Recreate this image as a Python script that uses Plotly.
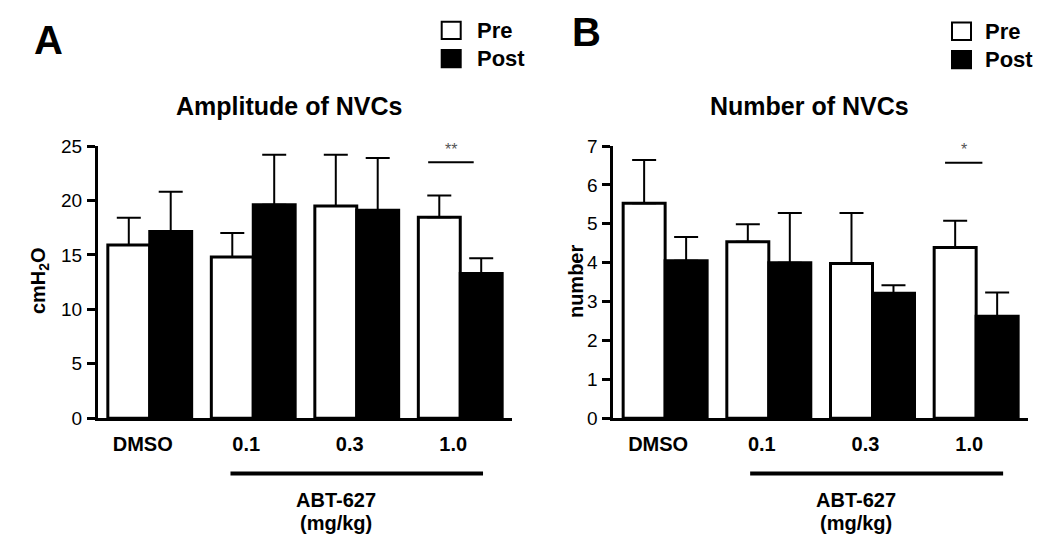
import plotly.graph_objects as go

# ---------------- data ----------------
categories = ["DMSO", "0.1", "0.3", "1.0"]

amp_pre = [15.9, 14.8, 19.5, 18.45]
amp_pre_sem = [2.5, 2.2, 4.7, 2.0]
amp_post = [17.15, 19.6, 19.1, 13.3]
amp_post_sem = [3.65, 4.6, 4.8, 1.4]

num_pre = [5.53, 4.54, 3.98, 4.39]
num_pre_sem = [1.11, 0.45, 1.3, 0.69]
num_post = [4.05, 4.0, 3.21, 2.62]
num_post_sem = [0.61, 1.28, 0.21, 0.61]

amp_yticks = [0, 5, 10, 15, 20, 25]
num_yticks = [0, 1, 2, 3, 4, 5, 6, 7]

series_names = ["Pre", "Post"]
panel_titles = ["Amplitude of NVCs", "Number of NVCs"]
panel_letters = ["A", "B"]
y_titles = ["cmH<sub>2</sub>O", "number"]
drug_label = "ABT-627"
unit_label = "(mg/kg)"
sig_labels = ["**", "*"]

# ---------------- helpers ----------------
W, H = 1050, 542
FONT = "Liberation Sans, Arial, sans-serif"


def px(x):
    return x / W


def py(y):
    return 1 - y / H


def bar(name, y, sem, fill, xa, ya):
    return go.Bar(
        name=name, x=categories, y=y, xaxis=xa, yaxis=ya,
        marker=dict(color=fill, line=dict(color="black", width=3)),
        error_y=dict(type="data", symmetric=False, array=sem,
                     arrayminus=[0] * len(sem), color="black",
                     thickness=2, width=12),
        showlegend=False,
    )


fig = go.Figure()
fig.add_trace(bar(series_names[0], amp_pre, amp_pre_sem, "white", "x", "y"))
fig.add_trace(bar(series_names[1], amp_post, amp_post_sem, "black", "x", "y"))
fig.add_trace(bar(series_names[0], num_pre, num_pre_sem, "white", "x2", "y2"))
fig.add_trace(bar(series_names[1], num_post, num_post_sem, "black", "x2", "y2"))

ydom = [py(424.6), py(141.5)]


def xaxis(dom, anchor):
    return dict(
        domain=dom, anchor=anchor, type="category",
        categoryorder="array", categoryarray=categories,
        range=[-0.5, 3.5], showline=True, linewidth=3, linecolor="black",
        ticks="", showgrid=False, zeroline=False,
        tickfont=dict(family=FONT, size=20, color="black", weight="bold"),
        ticklabelstandoff=6, ticklabelshift=-7,
    )


def yaxis(rng, ticks, anchor):
    return dict(
        domain=ydom, anchor=anchor, range=rng, tickvals=ticks,
        showline=True, linewidth=3, linecolor="black",
        ticks="outside", ticklen=8, tickwidth=3, tickcolor="black",
        showgrid=False, zeroline=False, ticklabelstandoff=1,
        tickfont=dict(family=FONT, size=19, color="black"),
    )


fig.update_layout(
    width=W, height=H,
    margin=dict(l=0, r=0, t=0, b=0),
    paper_bgcolor="white", plot_bgcolor="white",
    barmode="group", bargap=0.19, bargroupgap=0,
    showlegend=False,
    font=dict(family=FONT, color="black"),
    xaxis=xaxis([px(98), px(512)], "y"),
    yaxis=yaxis([0, 25], amp_yticks, "x"),
    xaxis2=xaxis([px(613.3), px(1028)], "y2"),
    yaxis2=yaxis([0, 7], num_yticks, "x2"),
)

shapes = []
annotations = []

# per-panel decoration
panels = [
    dict(xr="x", yr="y", title_x=289, letter_x=48, letter_y=31.2,
         ytitle_x=39, leg_box_x=441.7, leg_text_x=475, leg_y0=11.1,
         brk=(0.78, 3.22), drug_x=1.8, sig=(2.69, 3.13, 23.5), sig_txt=(2.91, 24.7)),
    dict(xr="x2", yr="y2", title_x=809.5, letter_x=586, letter_y=22.7,
         ytitle_x=576, leg_box_x=952, leg_text_x=983, leg_y0=12.1,
         brk=(0.82, 3.26), drug_x=1.84, sig=(2.70, 3.06, 6.57), sig_txt=(2.88, 6.92)),
]

for i, p in enumerate(panels):
    # title
    annotations.append(dict(
        text="<b>%s</b>" % panel_titles[i], x=px(p["title_x"]), y=py(99.8),
        xref="paper", yref="paper", showarrow=False, xanchor="center", yanchor="middle",
        font=dict(family=FONT, size=25, color="black")))
    # panel letter
    annotations.append(dict(
        text="<b>%s</b>" % panel_letters[i], x=px(p["letter_x"]), y=py(p["letter_y"]),
        xref="paper", yref="paper", showarrow=False, xanchor="center", yanchor="middle",
        font=dict(family=FONT, size=40, color="black")))
    # y title
    annotations.append(dict(
        text="<b>%s</b>" % y_titles[i], x=px(p["ytitle_x"]), y=py(282),
        xref="paper", yref="paper", showarrow=False, textangle=-90,
        xanchor="center", yanchor="middle",
        font=dict(family=FONT, size=20, color="black")))
    # bracket under ABT-627 doses
    shapes.append(dict(type="line", xref=p["xr"], yref="paper",
                       x0=p["brk"][0], x1=p["brk"][1], y0=py(482.1), y1=py(482.1),
                       line=dict(color="black", width=4)))
    annotations.append(dict(
        text="<b>%s</b>" % drug_label, x=p["drug_x"], y=py(510),
        xref=p["xr"], yref="paper", showarrow=False, xanchor="center", yanchor="middle",
        font=dict(family=FONT, size=20, color="black")))
    annotations.append(dict(
        text="<b>%s</b>" % unit_label, x=p["drug_x"], y=py(533.5),
        xref=p["xr"], yref="paper", showarrow=False, xanchor="center", yanchor="middle",
        font=dict(family=FONT, size=20, color="black")))
    # significance
    shapes.append(dict(type="line", xref=p["xr"], yref=p["yr"],
                       x0=p["sig"][0], x1=p["sig"][1], y0=p["sig"][2], y1=p["sig"][2],
                       line=dict(color="black", width=2)))
    annotations.append(dict(
        text=sig_labels[i], x=p["sig_txt"][0], y=p["sig_txt"][1],
        xref=p["xr"], yref=p["yr"], showarrow=False, xanchor="center", yanchor="middle",
        font=dict(family=FONT, size=16, color="#555555")))
    # legend
    for j, (name, fill) in enumerate(zip(series_names, ["white", "black"])):
        y0 = p["leg_y0"] + 29.5 * j
        shapes.append(dict(type="rect", xref="paper", yref="paper",
                           x0=px(p["leg_box_x"]), x1=px(p["leg_box_x"] + 19),
                           y0=py(y0 + 1), y1=py(y0 + 19),
                           fillcolor=fill, line=dict(color="black", width=2)))
        annotations.append(dict(
            text="<b>%s</b>" % name, x=px(p["leg_text_x"]), y=py(y0 + 10),
            xref="paper", yref="paper", showarrow=False, xanchor="left", yanchor="middle",
            font=dict(family=FONT, size=22, color="black")))

fig.update_layout(shapes=shapes, annotations=annotations)

fig.write_html(
    "out.html",
    config={"displayModeBar": False},
    post_script="document.body.style.margin='0';document.body.style.overflow='hidden';",
)
